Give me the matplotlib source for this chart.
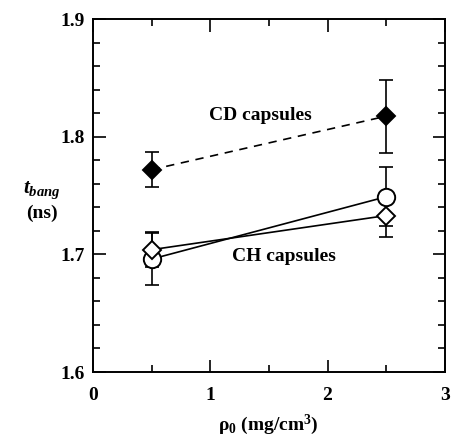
import matplotlib
matplotlib.use("Agg")
import matplotlib.pyplot as plt
from matplotlib.ticker import MultipleLocator

plt.rcParams['font.family'] = ['Liberation Serif', 'DejaVu Serif']
plt.rcParams['font.weight'] = 'bold'
plt.rcParams['mathtext.fontset'] = 'custom'
plt.rcParams['mathtext.rm'] = 'Liberation Serif:bold'
plt.rcParams['mathtext.bf'] = 'Liberation Serif:bold'
plt.rcParams['mathtext.it'] = 'Liberation Serif:italic:bold'
plt.rcParams['mathtext.default'] = 'bf'

# Data
rho0 = [0.5, 2.5]
cd_t = [1.772, 1.8175]
cd_err = [0.015, 0.031]
ch_circle_t = [1.696, 1.749]
ch_circle_err = [0.022, 0.025]
ch_diamond_t = [1.704, 1.733]
ch_diamond_err = [0.015, 0.018]

fig = plt.figure(figsize=(4.53, 4.45), dpi=100)
ax = fig.add_axes([0.205, 0.164, 0.777, 0.793])

lw = 1.2
eb = dict(fmt='none', ecolor='black', elinewidth=lw, capsize=4.7, capthick=lw, zorder=1)
ax.errorbar(rho0, ch_circle_t, yerr=ch_circle_err, **eb)
ax.errorbar(rho0, ch_diamond_t, yerr=ch_diamond_err, **eb)
ax.errorbar(rho0, cd_t, yerr=cd_err, **eb)

ax.plot(rho0, cd_t, '--', color='black', lw=lw, dashes=(5, 4), zorder=2)
ax.plot(rho0, ch_circle_t, '-', color='black', lw=lw, zorder=2)
ax.plot(rho0, ch_diamond_t, '-', color='black', lw=lw, zorder=2)

ax.plot(rho0, ch_circle_t, 'o', ms=12.5, mfc='white', mec='black', mew=1.4, ls='none', zorder=3)
ax.plot(rho0, ch_diamond_t, 'D', ms=9.5, mfc='white', mec='black', mew=1.4, ls='none', zorder=4)
ax.plot(rho0, cd_t, 'D', ms=9.5, mfc='black', mec='black', mew=1.4, ls='none', zorder=5)

ax.text(1.43, 1.818, 'CD capsules', ha='center', va='center', fontsize=14, fontweight='bold')
ax.text(1.63, 1.698, 'CH capsules', ha='center', va='center', fontsize=14, fontweight='bold')

ax.set_xlim(0, 3)
ax.set_ylim(1.6, 1.9)
ax.xaxis.set_major_locator(MultipleLocator(1))
ax.xaxis.set_minor_locator(MultipleLocator(0.5))
ax.yaxis.set_major_locator(MultipleLocator(0.1))
ax.yaxis.set_minor_locator(MultipleLocator(0.02))
ax.tick_params(which='both', direction='in', top=True, right=True, width=1.2, labelsize=14)
ax.tick_params(which='major', length=9)
ax.tick_params(which='minor', length=5)
ax.tick_params(axis='x', pad=11)
ax.tick_params(axis='y', pad=6)
for lab in ax.get_xticklabels() + ax.get_yticklabels():
    lab.set_fontweight('bold')
for s in ax.spines.values():
    s.set_linewidth(1.4)

ax.set_xlabel(r'ρ$_0$ (mg/cm$^3$)', fontsize=14, fontweight='bold', labelpad=6)
fig.text(0.092, 0.572, r'$\mathit{t_{bang}}$', ha='center', va='center', fontsize=15)
fig.text(0.092, 0.52, '(ns)', ha='center', va='center', fontsize=14, fontweight='bold')

fig.savefig('out.png', dpi=100)
